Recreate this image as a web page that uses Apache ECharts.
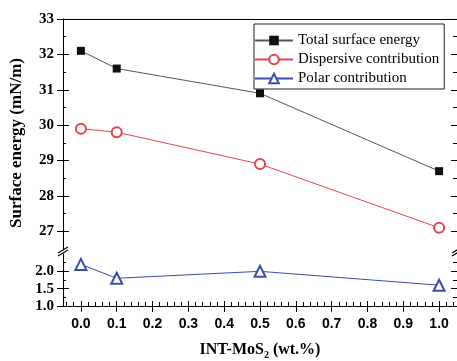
<!DOCTYPE html>
<html><head><meta charset="utf-8">
<script src="https://cdn.jsdelivr.net/npm/echarts@6/dist/echarts.min.js"></script>
<style>html,body{margin:0;padding:0;background:#fff}#c{width:457px;height:361px}</style>
</head><body><div id="c"></div>
<script>
// ---- data ----
const xValues = [0.0, 0.1, 0.5, 1.0];
const totalEnergy = [32.1, 31.6, 30.9, 28.7];
const dispersive = [29.9, 29.8, 28.9, 27.1];
const polar = [2.2, 1.8, 2.0, 1.6];
const seriesNames = ['Total surface energy', 'Dispersive contribution', 'Polar contribution'];
const upperMajor = [27, 28, 29, 30, 31, 32, 33];
const upperMinor = [27.5, 28.5, 29.5, 30.5, 31.5, 32.5];
const lowerMajor = [1.0, 1.5, 2.0];
const lowerMinor = [1.25, 1.75, 2.25];
const xMajor = [0.0, 0.1, 0.2, 0.3, 0.4, 0.5, 0.6, 0.7, 0.8, 0.9, 1.0];
const xMinor = [];
for (let i = -2; i <= 52; i++) { if (i % 5 !== 0) xMinor.push(Math.round(i * 2) / 100); }

// ---- layout ----
const FONT = 'Liberation Serif';
const SANS = 'Liberation Sans';
const L = 63, W = 395, T1 = 19, H1 = 230, T2 = 254, H2 = 54;
const B1 = T1 + H1, R = L + W;
const X_MIN = -0.05, X_MAX = 1.05;
const U_MIN = 26.5, U_MAX = 33, D_MIN = 1.0, D_MAX = 2.5;

const zip = (xs, ys) => xs.map((x, i) => [x, ys[i]]);
const base = (o) => Object.assign({
  type: 'value', axisLine: { show: false, onZero: false }, axisTick: { show: false },
  axisLabel: { show: false }, splitLine: { show: false }, minorTick: { show: false }
}, o);
const line = { show: true, onZero: false, lineStyle: { color: '#000', width: 1 } };
const tick = (vals, inside, len) => ({ show: true, inside, length: len, customValues: vals, lineStyle: { color: '#000', width: 1 } });
const lbl = (vals, fmt, margin, family, size) => ({ show: true, customValues: vals, formatter: fmt, margin,
  fontFamily: family, fontWeight: 'bold', fontSize: size, color: '#000' });

const xAxis = [
  base({ gridIndex: 0, position: 'top', min: X_MIN, max: X_MAX, axisLine: line }),
  base({ gridIndex: 1, position: 'bottom', min: X_MIN, max: X_MAX, axisLine: line,
    axisTick: tick(xMajor, true, 5), axisLabel: lbl(xMajor, v => v.toFixed(1), 11, SANS, 14),
    name: 'INT-MoS{sub|2} (wt.%)', nameLocation: 'middle', nameGap: 34,
    nameTextStyle: { fontFamily: FONT, fontWeight: 'bold', fontSize: 16, color: '#000', lineHeight: 20,
      rich: { sub: { fontFamily: FONT, fontWeight: 'bold', fontSize: 10, lineHeight: 10, verticalAlign: 'bottom', color: '#000' } } } }),
  base({ gridIndex: 1, position: 'bottom', min: X_MIN, max: X_MAX, axisTick: tick(xMajor, false, 6) }),
  base({ gridIndex: 1, position: 'bottom', min: X_MIN, max: X_MAX, axisTick: tick(xMinor, true, 4) })
];

const yAxis = [
  base({ gridIndex: 0, position: 'left', min: U_MIN, max: U_MAX, axisLine: line,
    axisTick: tick(upperMajor, true, 6), axisLabel: lbl(upperMajor, v => String(v), 9, FONT, 15) }),
  base({ gridIndex: 0, position: 'left', min: U_MIN, max: U_MAX, axisTick: tick(upperMajor, false, 6) }),
  base({ gridIndex: 0, position: 'left', min: U_MIN, max: U_MAX, axisTick: tick(upperMinor, true, 3) }),
  base({ gridIndex: 0, position: 'right', min: U_MIN, max: U_MAX, axisLine: line, axisTick: tick(upperMajor, true, 6) }),
  base({ gridIndex: 0, position: 'right', min: U_MIN, max: U_MAX, axisTick: tick(upperMinor, true, 4) }),
  base({ gridIndex: 1, position: 'left', min: D_MIN, max: D_MAX, axisLine: line,
    axisTick: tick(lowerMajor, true, 6), axisLabel: lbl(lowerMajor, v => v.toFixed(1), 9, FONT, 15) }),
  base({ gridIndex: 1, position: 'left', min: D_MIN, max: D_MAX, axisTick: tick(lowerMajor, false, 6) }),
  base({ gridIndex: 1, position: 'left', min: D_MIN, max: D_MAX, axisTick: tick(lowerMinor, true, 3) }),
  base({ gridIndex: 1, position: 'right', min: D_MIN, max: D_MAX, axisLine: line, axisTick: tick(lowerMajor, true, 6) }),
  base({ gridIndex: 1, position: 'right', min: D_MIN, max: D_MAX, axisTick: tick(lowerMinor, true, 4) })
];

const slash = (x, y) => ({ type: 'line', shape: { x1: x - 5, y1: y + 3, x2: x + 5, y2: y - 3 }, style: { stroke: '#000', lineWidth: 1.2 }, z: 100 });

const option = {
  animation: false,
  backgroundColor: '#fff',
  grid: [
    { left: L, top: T1, width: W, height: H1, containLabel: false },
    { left: L, top: T2, width: W, height: H2, containLabel: false }
  ],
  xAxis, yAxis,
  legend: {
    left: 254, top: 24, orient: 'vertical', data: seriesNames,
    borderColor: '#222', borderWidth: 1, backgroundColor: '#fff',
    padding: [9, 5, 3, 0], itemGap: 4, itemWidth: 38, itemHeight: 12,
    textStyle: { fontFamily: FONT, fontSize: 15, color: '#000', lineHeight: 15 }
  },
  graphic: [
    { type: 'text', x: 17, y: 143, rotation: Math.PI / 2,
      style: { text: 'Surface energy (mN/m)', fontFamily: FONT, fontWeight: 'bold', fontSize: 17, fill: '#000', textAlign: 'center', textVerticalAlign: 'middle' } },
    { type: 'rect', shape: { x: L - 3, y: B1 + 1, width: 6, height: T2 - B1 - 2 }, style: { fill: '#fff' }, z: 99 },
    slash(L, B1 + 1), slash(L, T2 - 1), slash(R - 1, B1 + 1), slash(R - 1, T2 - 1)
  ],
  series: [
    { name: seriesNames[0], type: 'line', xAxisIndex: 0, yAxisIndex: 0, data: zip(xValues, totalEnergy),
      symbol: 'rect', symbolSize: 8, itemStyle: { color: '#111' }, lineStyle: { color: '#555', width: 1 } },
    { name: seriesNames[1], type: 'line', xAxisIndex: 0, yAxisIndex: 0, data: zip(xValues, dispersive),
      symbol: 'emptyCircle', symbolSize: 10, itemStyle: { color: '#e5464d', borderWidth: 1 }, lineStyle: { color: '#e5464d', width: 1 } },
    { name: seriesNames[2], type: 'line', xAxisIndex: 1, yAxisIndex: 5, data: zip(xValues, polar),
      symbol: 'emptyTriangle', symbolSize: 11, itemStyle: { color: '#3b4cb0', borderWidth: 1 }, lineStyle: { color: '#3b4cb0', width: 1 } }
  ]
};
const chart = echarts.init(document.getElementById('c'), null, { renderer: 'canvas' });
chart.setOption(option);
</script></body></html>
